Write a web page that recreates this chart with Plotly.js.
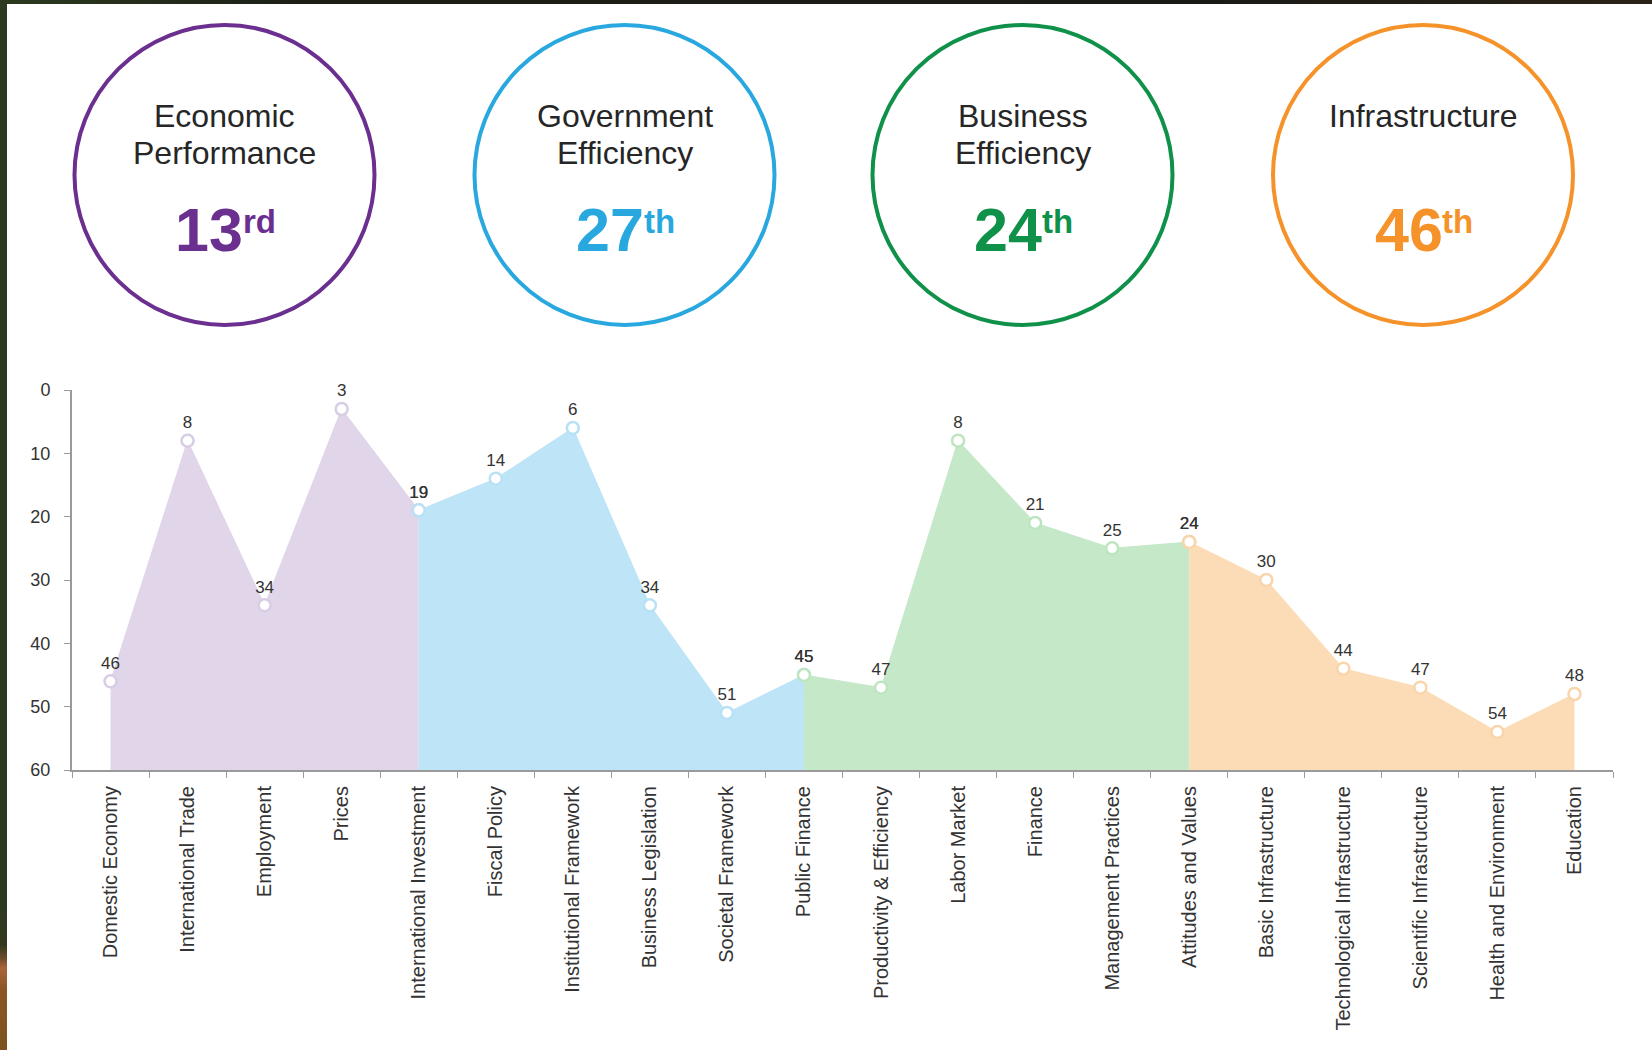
<!DOCTYPE html>
<html>
<head>
<meta charset="utf-8">
<script src="https://cdn.plot.ly/plotly-3.0.1.min.js"></script>
<style>
  html, body { margin: 0; padding: 0; background: #ffffff; }
  #chart { position: absolute; left: 0; top: 0; width: 1652px; height: 1050px; }
  #leftStrip { position: absolute; left: 0; top: 0; width: 7px; height: 1050px; pointer-events: none;
    background: linear-gradient(to bottom, #2c3a1f 0px, #2c3a1f 900px, #33391f 945px, #6b4a2a 958px, #a8643a 968px, #8a5624 990px, #7d5220 1050px); }
  #topStrip { position: absolute; left: 0; top: 0; width: 1652px; height: 4px; pointer-events: none;
    background: linear-gradient(to right, #2c3a1f 0px, #1c1f16 300px, #1a1a15 1200px, #2a2216 1652px); }
</style>
</head>
<body>
<div id="chart"></div>
<div id="leftStrip"></div>
<div id="topStrip"></div>
<script>
// ---------- data ----------
const categories = [
  'Domestic Economy', 'International Trade', 'Employment', 'Prices', 'International Investment',
  'Fiscal Policy', 'Institutional Framework', 'Business Legislation', 'Societal Framework', 'Public Finance',
  'Productivity & Efficiency', 'Labor Market', 'Finance', 'Management Practices', 'Attitudes and Values',
  'Basic Infrastructure', 'Technological Infrastructure', 'Scientific Infrastructure', 'Health and Environment', 'Education'
];
const ranks = [46, 8, 34, 3, 19, 14, 6, 34, 51, 45, 47, 8, 21, 25, 24, 30, 44, 47, 54, 48];

const factorNames = ['Economic<br>Performance', 'Government<br>Efficiency', 'Business<br>Efficiency', 'Infrastructure'];
const factorRanks = [13, 27, 24, 46];
const factorSuffixes = ['rd', 'th', 'th', 'th'];
const subFactorsPerFactor = 5;

const yTickVals = [0, 10, 20, 30, 40, 50, 60];

// ---------- styles ----------
const strongColors = ['#6a2f8f', '#29a8e0', '#0f914a', '#f5922a'];
const fillColors   = ['#e0d5e9', '#bde4f7', '#c5e8c8', '#fcdcb6'];
const markerLines  = ['#d9cde5', '#b8e1f6', '#bde5c0', '#f9d5ab'];
const FONT = 'Liberation Sans, Arial, Helvetica, sans-serif';

// plot area geometry (pixels)
const W = 1652, H = 1050;
const M = { l: 72, r: 39, t: 390, b: 280 };
const PW = W - M.l - M.r, PH = H - M.t - M.b;
const px = x => (x - M.l) / PW;
const py = y => (H - M.b - y) / PH;

const Y_BOTTOM = yTickVals[yTickVals.length - 1];

// ---------- traces ----------
const traces = [];
for (let k = 0; k < factorNames.length; k++) {
  const start = Math.max(0, k * subFactorsPerFactor - 1);
  const end = k * subFactorsPerFactor + subFactorsPerFactor - 1;
  const xs = categories.slice(start, end + 1);
  const ys = ranks.slice(start, end + 1);
  traces.push({
    type: 'scatter', mode: 'lines', x: xs, y: xs.map(() => Y_BOTTOM),
    line: { width: 0, color: fillColors[k] }, hoverinfo: 'skip', showlegend: false
  });
  traces.push({
    type: 'scatter', mode: 'lines+markers+text', x: xs, y: ys,
    text: ys.map(String), textposition: 'top center',
    textfont: { family: FONT, size: 17, color: '#333333' },
    fill: 'tonexty', fillcolor: fillColors[k],
    line: { width: 1, color: fillColors[k] },
    marker: { size: 12, color: '#ffffff', line: { width: 2.5, color: markerLines[k] } },
    cliponaxis: false, showlegend: false, name: factorNames[k].replace('<br>', ' ')
  });
}

// ---------- circles & labels ----------
const circleCenters = [224.5, 624.5, 1022.5, 1423];
const circleCY = 175, circleR = 150;
const shapes = [];
const annotations = [];

const canvas = document.createElement('canvas');
const ctx = canvas.getContext('2d');
function textWidth(str, size, weight) {
  ctx.font = weight + ' ' + size + 'px "Liberation Sans", Arial, sans-serif';
  return ctx.measureText(str).width;
}

for (let i = 0; i < factorNames.length; i++) {
  const cx = circleCenters[i];
  shapes.push({
    type: 'circle', xref: 'paper', yref: 'paper',
    x0: px(cx - circleR), x1: px(cx + circleR),
    y0: py(circleCY + circleR), y1: py(circleCY - circleR),
    line: { color: strongColors[i], width: 4 }, fillcolor: 'rgba(0,0,0,0)'
  });
  const lines = factorNames[i].split('<br>');
  lines.forEach((ln, j) => {
    annotations.push({
      xref: 'paper', yref: 'paper', x: px(cx), y: py(116 + j * 37),
      text: ln, showarrow: false, xanchor: 'center', yanchor: 'middle', borderpad: 0,
      font: { family: FONT, size: 32, color: '#262626' }
    });
  });
  const numStr = String(factorRanks[i]);
  const numW = textWidth(numStr, 61, 'bold');
  const sufW = textWidth(factorSuffixes[i], 33, 'bold');
  const left = cx - (numW + sufW) / 2;
  annotations.push({
    xref: 'paper', yref: 'paper', x: px(left), y: py(230),
    text: numStr, showarrow: false, xanchor: 'left', yanchor: 'middle', borderpad: 0,
    font: { family: FONT, size: 61, color: strongColors[i], weight: 700 }
  });
  annotations.push({
    xref: 'paper', yref: 'paper', x: px(left + numW), y: py(221),
    text: factorSuffixes[i], showarrow: false, xanchor: 'left', yanchor: 'middle', borderpad: 0,
    font: { family: FONT, size: 33, color: strongColors[i], weight: 700 }
  });
}

const layout = {
  width: W, height: H,
  margin: { l: M.l, r: M.r, t: M.t, b: M.b, pad: 0 },
  paper_bgcolor: 'rgba(0,0,0,0)', plot_bgcolor: 'rgba(0,0,0,0)',
  showlegend: false,
  xaxis: {
    type: 'category', categoryorder: 'array', categoryarray: categories,
    range: [-0.5, categories.length - 0.5], tickson: 'boundaries',
    ticks: 'outside', ticklen: 6, tickwidth: 1, tickcolor: '#9a9a9a',
    showline: true, linecolor: '#9a9a9a', linewidth: 2,
    tickangle: -90, tickfont: { family: FONT, size: 20, color: '#333333' },
    ticklabelstandoff: 6,
    showgrid: false, zeroline: false, fixedrange: true
  },
  yaxis: {
    range: [Y_BOTTOM, 0], tickvals: yTickVals, ticktext: yTickVals.map(String),
    ticks: 'outside', ticklen: 6, tickwidth: 1, tickcolor: '#9a9a9a',
    showline: true, linecolor: '#9a9a9a', linewidth: 2,
    tickfont: { family: FONT, size: 18, color: '#333333' },
    ticklabelstandoff: 10,
    showgrid: false, zeroline: false, fixedrange: true
  },
  shapes: shapes,
  annotations: annotations
};

Plotly.newPlot('chart', traces, layout, { displayModeBar: false, staticPlot: true });
</script>
</body>
</html>
